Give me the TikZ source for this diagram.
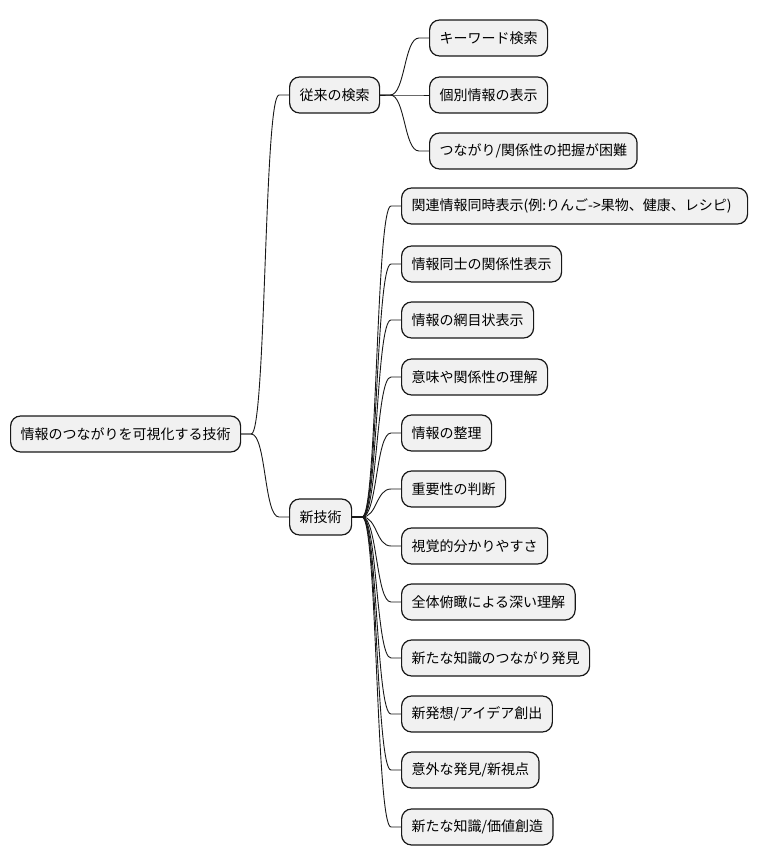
\documentclass[tikz,border=0pt]{standalone}
\usepackage{fontspec}
\setmainfont{Noto Sans CJK JP}
\definecolor{boxfill}{HTML}{F1F1F1}
\definecolor{boxline}{HTML}{181818}
\tikzset{
  mm/.style={draw=boxline, fill=boxfill, line width=1.2pt, rounded corners=10pt,
    anchor=west, inner xsep=10pt, inner ysep=0pt, minimum height=36pt,
    font=\fontsize{14pt}{16pt}\selectfont, text=black},
  link/.style={draw=boxline, line width=0.9pt}
}
\newcommand{\mmlink}[2]{%
  \draw[link] (#1.east) -- ([xshift=10pt]#1.east) .. controls ([xshift=25pt]#1.east) and ([xshift=-25pt]#2.west) .. ([xshift=-10pt]#2.west) -- (#2.west);}
\begin{document}
\begin{tikzpicture}[x=1pt,y=-1pt]
\useasboundingbox (0,0) rectangle (759,865);
\node[mm] (root) at (10,434) {情報のつながりを可視化する技術};
\node[mm] (old) at (289,95) {従来の検索};
\node[mm] (new) at (289,517) {新技術};
\node[mm] (o1) at (429,38) {キーワード検索};
\node[mm] (o2) at (429,95) {個別情報の表示};
\node[mm] (o3) at (429,151) {つながり/関係性の把握が困難};
\node[mm, text width=326pt, align=left] (n1) at (401,206) {関連情報同時表示(例:りんご->果物、健康、レシピ)};
\node[mm] (n2) at (401,264) {情報同士の関係性表示};
\node[mm] (n3) at (401,320) {情報の網目状表示};
\node[mm] (n4) at (401,377) {意味や関係性の理解};
\node[mm] (n5) at (401,433) {情報の整理};
\node[mm] (n6) at (401,489) {重要性の判断};
\node[mm] (n7) at (401,546) {視覚的分かりやすさ};
\node[mm] (n8) at (401,602) {全体俯瞰による深い理解};
\node[mm] (n9) at (401,658) {新たな知識のつながり発見};
\node[mm] (n10) at (401,714) {新発想/アイデア創出};
\node[mm] (n11) at (401,770) {意外な発見/新視点};
\node[mm] (n12) at (401,827) {新たな知識/価値創造};
\mmlink{root}{old}
\mmlink{root}{new}
\mmlink{old}{o1}
\mmlink{old}{o2}
\mmlink{old}{o3}
\foreach \i in {1,...,12} {\mmlink{new}{n\i}}
\end{tikzpicture}
\end{document}
